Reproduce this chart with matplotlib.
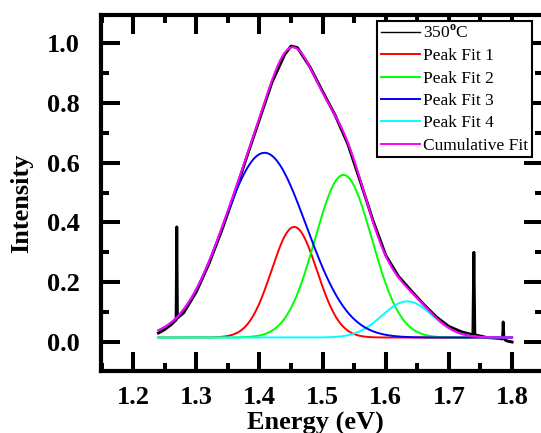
import numpy as np
import matplotlib
matplotlib.use("Agg")
import matplotlib.pyplot as plt
from matplotlib.ticker import MultipleLocator

plt.rcParams["font.family"] = ["Liberation Serif", "DejaVu Serif"]
plt.rcParams["font.weight"] = "bold"
plt.rcParams["mathtext.fontset"] = "custom"
plt.rcParams["mathtext.rm"] = "Liberation Serif"

# measured PL spectrum (350 C), incl. the narrow spikes
energy = [1.240, 1.250, 1.260, 1.268, 1.269, 1.270, 1.280, 1.300, 1.320, 1.340,
          1.360, 1.380, 1.400, 1.420, 1.440, 1.450, 1.460, 1.480, 1.500, 1.520,
          1.540, 1.560, 1.580, 1.600, 1.620, 1.640, 1.660, 1.680, 1.700, 1.720,
          1.738, 1.7395, 1.741, 1.760, 1.780, 1.785, 1.786, 1.787, 1.790, 1.795,
          1.800]
intensity = [0.030, 0.042, 0.058, 0.074, 0.385, 0.080, 0.098, 0.168, 0.262, 0.372,
             0.492, 0.620, 0.745, 0.870, 0.962, 0.990, 0.985, 0.920, 0.838, 0.758,
             0.662, 0.535, 0.405, 0.290, 0.220, 0.172, 0.126, 0.084, 0.052, 0.034,
             0.024, 0.300, 0.024, 0.015, 0.012, 0.010, 0.067, 0.015, 0.005, 0.002,
             0.000]

# gaussian peak fit parameters
baseline = 0.015
peak_centers = [1.455, 1.533, 1.408, 1.634]
peak_sigmas = [0.036, 0.045, 0.066, 0.040]
peak_heights = [0.370, 0.544, 0.618, 0.121]
peak_labels = ["Peak Fit 1", "Peak Fit 2", "Peak Fit 3", "Peak Fit 4"]
peak_colors = ["#ff0000", "#00ff00", "#0000ff", "#00ffff"]

e_fit = np.linspace(1.24, 1.80, 600)
peaks = [baseline + h * np.exp(-(e_fit - c) ** 2 / (2 * s ** 2))
         for c, s, h in zip(peak_centers, peak_sigmas, peak_heights)]
cumulative = baseline + sum(p - baseline for p in peaks)

fig = plt.figure(figsize=(5.41, 4.33), dpi=100)
ax = fig.add_axes([101 / 541, 62 / 433, 442 / 541, 356 / 433])

ax.plot(energy, intensity, color="black", lw=2.1, label="350$^{\\mathrm{o}}$C", zorder=2)
lines = {}
for p, lab, col in zip(peaks, peak_labels, peak_colors):
    lines[lab], = ax.plot(e_fit, p, color=col, lw=1.4, label=lab)
# blue drawn over cyan along the baseline
lines["Peak Fit 3"].set_zorder(3.5)
lines["Peak Fit 4"].set_zorder(3.2)
ax.plot(e_fit, cumulative, color="#ff00ff", lw=1.5, label="Cumulative Fit", zorder=4)

ax.set_xlim(1.149, 1.849)
ax.set_ylim(-0.097, 1.094)
ax.xaxis.set_major_locator(MultipleLocator(0.1))
ax.xaxis.set_minor_locator(MultipleLocator(0.05))
ax.yaxis.set_major_locator(MultipleLocator(0.2))
ax.yaxis.set_minor_locator(MultipleLocator(0.1))
ax.tick_params(which="both", direction="in", top=True, right=True, width=2.9)
ax.tick_params(which="major", length=14, labelsize=19)
ax.tick_params(which="minor", length=6)
ax.tick_params(axis="y", which="major", pad=15)
ax.tick_params(axis="x", which="major", pad=11)
for sp in ax.spines.values():
    sp.set_linewidth(3)

ax.set_xlabel("Energy (eV)", fontsize=19, fontweight="bold", va="top")
ax.xaxis.set_label_coords(0.484, -0.115)
ax.set_ylabel("Intensity", fontsize=19, fontweight="bold", va="center")
ax.yaxis.set_label_coords(-0.179, 0.472)

handles, labels = ax.get_legend_handles_labels()
leg = ax.legend(handles, labels, loc="upper right", bbox_to_anchor=(532 / 541, 412 / 433),
                bbox_transform=fig.transFigure, borderaxespad=0,
                prop={"size": 12.5, "weight": "normal"},
                frameon=True, fancybox=False, framealpha=1, edgecolor="black",
                handlelength=2.25, handletextpad=0.2, borderpad=0.2, labelspacing=0.36)
leg.get_frame().set_linewidth(1.5)
leg.set_zorder(10)
for h in leg.get_lines():
    h.set_linewidth(1.4)
leg.get_lines()[0].set_linewidth(1.0)

fig.savefig("out.png", dpi=100)
